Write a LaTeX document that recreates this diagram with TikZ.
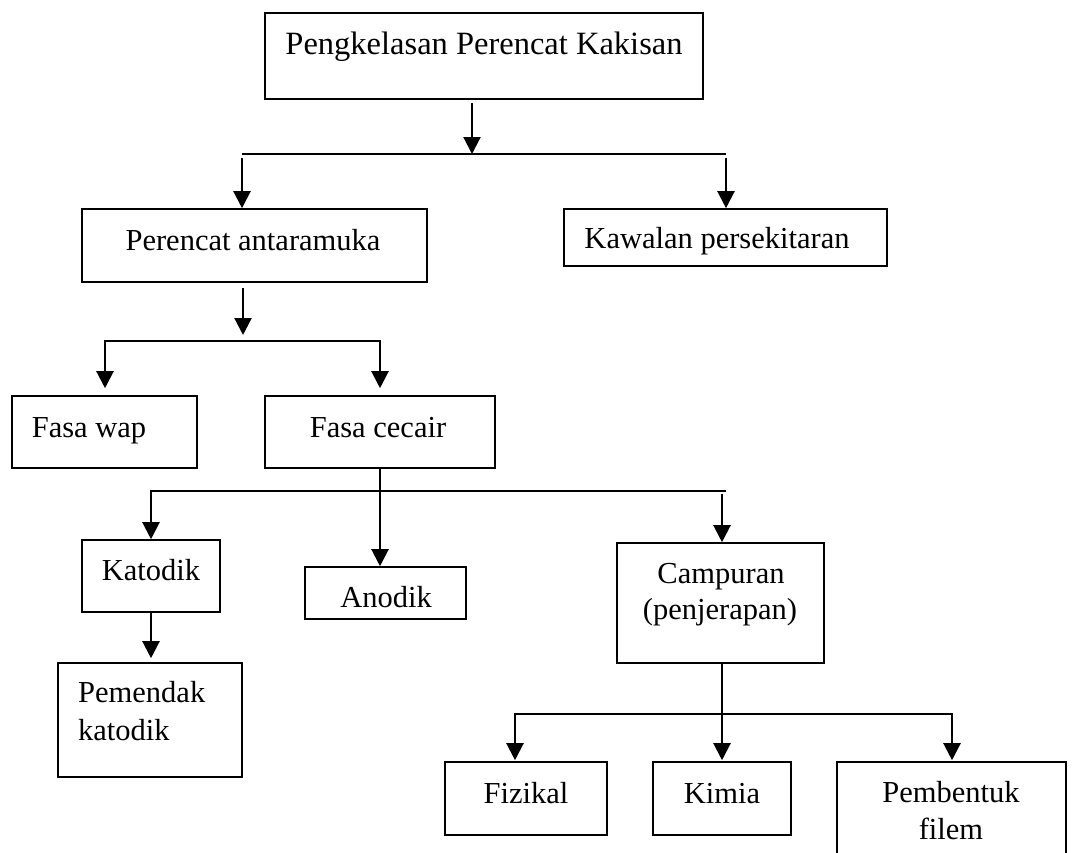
\documentclass[tikz,border=0pt]{standalone}
\usepackage{fontspec}
\setmainfont{Liberation Serif}
\usetikzlibrary{arrows.meta}
\tikzset{
  box/.style={draw, line width=1.6pt, inner sep=0pt, rectangle},
  txt/.style={inner sep=0pt, anchor=base, font=\fontsize{30.5}{36}\selectfont},
  txtl/.style={txt, anchor=base west},
  conn/.style={line width=2.2pt, line join=miter},
  arr/.style={conn, -{Triangle[width=17pt,length=17pt]}},
  arrr/.style={conn, {Triangle[width=17pt,length=17pt]}-{Triangle[width=17pt,length=17pt]}}
}
\begin{document}
\begin{tikzpicture}[x=1pt,y=-1pt]
\useasboundingbox (0,0) rectangle (1092,852);
% boxes
\node[box, minimum width=438pt, minimum height=86pt] (top) at (484,56) {};
\node[box, minimum width=345pt, minimum height=73pt] (pa) at (254.5,245.5) {};
\node[box, minimum width=323pt, minimum height=57pt] (kp) at (725.5,237.5) {};
\node[box, minimum width=185pt, minimum height=72pt] (fw) at (104.5,432) {};
\node[box, minimum width=230pt, minimum height=72pt] (fc) at (380,432) {};
\node[box, minimum width=138pt, minimum height=72pt] (kat) at (151,576) {};
\node[box, minimum width=161pt, minimum height=52pt] (ano) at (385.5,593) {};
\node[box, minimum width=207pt, minimum height=120pt] (cam) at (720.5,603) {};
\node[box, minimum width=184pt, minimum height=114pt] (pem) at (150,720) {};
\node[box, minimum width=162pt, minimum height=73pt] (fiz) at (526,798.5) {};
\node[box, minimum width=138pt, minimum height=73pt] (kim) at (722,798.5) {};
\node[box, minimum width=229pt, minimum height=118pt] (pbf) at (951.5,821) {};
% texts
\node[txt, font=\fontsize{32.5}{36}\selectfont] (ttop) at (484,54) {Pengkelasan Perencat Kakisan};
\node[txt] (tpa) at (253,250) {Perencat antaramuka};
\node[txt] (tkp) at (717,248) {Kawalan persekitaran};
\node[txt] (tfw) at (89,437) {Fasa wap};
\node[txt] (tfc) at (378,437) {Fasa cecair};
\node[txt] (tkat) at (151,580) {Katodik};
\node[txt] (tano) at (386,607) {Anodik};
\node[txtl] (tpem1) at (78,702) {Pemendak};
\node[txtl] (tpem2) at (78,740) {katodik};
\node[txt] (tcam1) at (721,583) {Campuran};
\node[txt] (tcam2) at (720,619) {(penjerapan)};
\node[txt] (tfiz) at (526,803) {Fizikal};
\node[txt] (tkim) at (722,803) {Kimia};
\node[txt] (tpbf1) at (951,802) {Pembentuk};
\node[txt] (tpbf2) at (951,839) {filem};
% level 1
\coordinate (b1) at (472,154);
\coordinate (b1l) at (242,154);
\coordinate (b1r) at (726,154);
\draw[arr] ([yshift=-3pt]top.south -| b1) -- (b1);
\draw[conn] (b1l) -- (b1r);
\draw[arr] ([yshift=-4pt]b1l) -- (b1l |- pa.north);
\draw[arr] ([yshift=-4pt]b1r) -- (b1r |- kp.north);
% level 2
\coordinate (b2) at (243,335);
\coordinate (b2l) at (105,341);
\coordinate (b2r) at (380,341);
\draw[arr] ([yshift=-5pt]pa.south -| b2) -- (b2);
\draw[arrr] ([yshift=7pt]fw.north -| b2l) -- (b2l) -- (b2r) -- ([yshift=7pt]fc.north -| b2r);
% level 3
\coordinate (b3l) at (151,491);
\coordinate (b3r) at (726,491);
\coordinate (b3c) at (722,494);
\draw[arr] (fc.south) -- (fc.south |- ano.north);
\draw[arr] (b3r) -- (b3l) -- (kat.north);
\draw[arr] (b3c) -- (b3c |- cam.north);
\draw[arr] (kat.south) -- ([yshift=4pt]kat.south |- pem.north);
% level 4
\coordinate (b4l) at (515,714);
\coordinate (b4r) at (952,714);
\draw[arr] (cam.south -| kim.north) -- ([yshift=1pt]kim.north);
\draw[arrr] ([yshift=1pt]fiz.north -| b4l) -- (b4l) -- (b4r) -- ([yshift=1pt]pbf.north -| b4r);
\end{tikzpicture}
\end{document}
